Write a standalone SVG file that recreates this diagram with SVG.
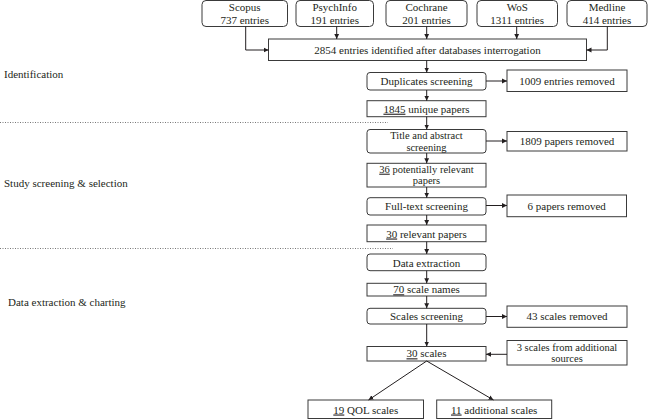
<svg xmlns="http://www.w3.org/2000/svg" width="648" height="419" viewBox="0 0 648 419" font-family="'Liberation Serif', serif">
<defs>
<marker id="ah" markerWidth="6" markerHeight="6" refX="5" refY="3" orient="auto" markerUnits="userSpaceOnUse">
<path d="M0,0.6 L5,3 L0,5.4 Z" fill="#231f20"/>
</marker>
<style>
rect{fill:#fff;stroke:#3a3a3a;stroke-width:1}
text{font-family:'Liberation Serif', serif;font-size:11px;fill:#231f20}
.c{text-anchor:middle}
.s{font-size:10.5px}
.u{text-decoration:underline}
.ln{fill:none;stroke:#231f20;stroke-width:1;marker-end:url(#ah)}
.dot{stroke:#555;stroke-width:0.8;stroke-dasharray:1 1.5;fill:none}
</style>
</defs>
<rect x="0" y="0" width="648" height="419" style="fill:#fff;stroke:none"/>

<g id="labels">
<text x="4" y="78">Identification</text>
<text x="4" y="187">Study screening &amp; selection</text>
<text x="8" y="306">Data extraction &amp; charting</text>
<line class="dot" x1="0" y1="122.5" x2="388" y2="122.5"/>
<line class="dot" x1="0" y1="248.5" x2="393" y2="248.5"/>
</g>

<g id="scopus"><rect x="202" y="0.5" width="85.5" height="26" rx="4"/><text class="c"><tspan x="244.7" y="11">Scopus</tspan><tspan x="244.7" y="23.5">737 entries</tspan></text></g>
<g id="psychinfo"><rect x="296" y="0.5" width="77.5" height="26" rx="4"/><text class="c"><tspan x="334.7" y="11">PsychInfo</tspan><tspan x="334.7" y="23.5">191 entries</tspan></text></g>
<g id="cochrane"><rect x="386" y="0.5" width="81" height="26" rx="4"/><text class="c"><tspan x="426.5" y="11">Cochrane</tspan><tspan x="426.5" y="23.5">201 entries</tspan></text></g>
<g id="wos"><rect x="477" y="0.5" width="80.5" height="26" rx="4"/><text class="c"><tspan x="517.2" y="11">WoS</tspan><tspan x="517.2" y="23.5">1311 entries</tspan></text></g>
<g id="medline"><rect x="567" y="0.5" width="80" height="26" rx="4"/><text class="c"><tspan x="607" y="11">Medline</tspan><tspan x="607" y="23.5">414 entries</tspan></text></g>

<g id="identified"><rect x="268.5" y="39" width="318" height="21.5"/><text class="c" x="427.5" y="53.5">2854 entries identified after databases interrogation</text></g>

<g id="duplicates"><rect x="367" y="72.5" width="119" height="17.5" rx="3"/><text class="c" x="426.5" y="85">Duplicates screening</text></g>
<g id="removed1009"><rect x="507" y="70" width="120" height="21.5"/><text class="c" x="567" y="84.5">1009 entries removed</text></g>
<g id="unique"><rect x="367" y="100.7" width="119" height="16"/><text class="c" x="426.5" y="112.7"><tspan class="u">1845</tspan> unique papers</text></g>
<g id="titleabstract"><rect x="367" y="129.5" width="119" height="23.5" rx="3"/><text class="c s"><tspan x="426.5" y="138.9">Title and abstract</tspan><tspan x="426.5" y="150.5">screening</tspan></text></g>
<g id="removed1809"><rect x="507" y="131.5" width="120" height="19.5"/><text class="c" x="567" y="145">1809 papers removed</text></g>
<g id="potential"><rect x="367" y="163.3" width="119" height="23.7"/><text class="c s"><tspan x="426.5" y="172.7"><tspan class="u">36</tspan> potentially relevant</tspan><tspan x="426.5" y="184.3">papers</tspan></text></g>
<g id="fulltext"><rect x="367" y="197.7" width="119" height="17.3" rx="3"/><text class="c" x="426.5" y="210">Full-text screening</text></g>
<g id="removed6"><rect x="507" y="195" width="119.5" height="21.7"/><text class="c" x="566.7" y="209.5">6 papers removed</text></g>
<g id="relevant"><rect x="367" y="225" width="119" height="16.7"/><text class="c" x="426.5" y="237.5"><tspan class="u">30</tspan> relevant papers</text></g>
<g id="extraction"><rect x="367" y="254" width="119" height="16.7" rx="3"/><text class="c" x="426.5" y="266.5">Data extraction</text></g>
<g id="scalenames"><rect x="367" y="283.3" width="119" height="12.7"/><text class="c" x="426.5" y="293.3"><tspan class="u">70</tspan> scale names</text></g>
<g id="scalesscreening"><rect x="367" y="308.3" width="119" height="15.7" rx="3"/><text class="c" x="426.5" y="320.3">Scales screening</text></g>
<g id="removed43"><rect x="507" y="306" width="120" height="21.3"/><text class="c" x="567" y="320.3">43 scales removed</text></g>
<g id="scales30"><rect x="367" y="346.5" width="119" height="14.5"/><text class="c" x="426.5" y="357.3"><tspan class="u">30</tspan> scales</text></g>
<g id="additionalsources"><rect x="507" y="340.5" width="120" height="24.5"/><text class="c s"><tspan x="567" y="350.5">3 scales from additional</tspan><tspan x="567" y="362.1">sources</tspan></text></g>
<g id="qol"><rect x="308" y="400" width="115.5" height="18.5"/><text class="c" x="365.8" y="413.5"><tspan class="u">19</tspan> QOL scales</text></g>
<g id="additional"><rect x="436.7" y="400" width="115" height="18.5"/><text class="c" x="494.2" y="413.5"><tspan class="u">11</tspan> additional scales</text></g>

<g id="connectors">
<path class="ln" d="M245.7,26.5 V50 H268.5"/>
<path class="ln" d="M336.7,26.5 V39"/>
<path class="ln" d="M426.7,26.5 V39"/>
<path class="ln" d="M516.7,26.5 V39"/>
<path class="ln" d="M607.3,26.5 V50 H586.5"/>
<path class="ln" d="M426.7,60.5 V72.5"/>
<path class="ln" d="M486,81 H507"/>
<path class="ln" d="M426.7,90 V100.7"/>
<path class="ln" d="M426.7,116.7 V129.5"/>
<path class="ln" d="M486,141 H507"/>
<path class="ln" d="M426.7,153 V163.3"/>
<path class="ln" d="M426.7,187 V197.7"/>
<path class="ln" d="M486,205.5 H507"/>
<path class="ln" d="M426.7,215 V225"/>
<path class="ln" d="M426.7,241.7 V254"/>
<path class="ln" d="M426.7,270.7 V283.3"/>
<path class="ln" d="M426.7,296 V308.3"/>
<path class="ln" d="M486,316.5 H507"/>
<path class="ln" d="M426.7,324 V346.5"/>
<path class="ln" d="M507,354.3 H486"/>
<path class="ln" d="M426.7,361 L368.5,400"/>
<path class="ln" d="M426.7,361 L493.5,400"/>
</g>
</svg>
